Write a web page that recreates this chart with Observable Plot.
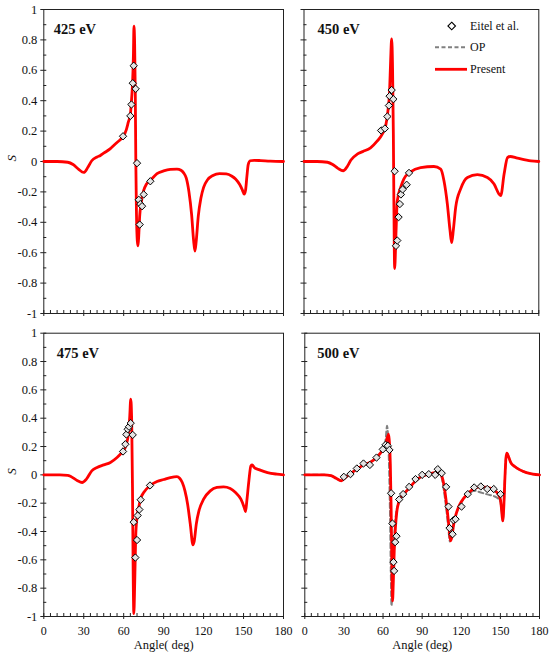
<!DOCTYPE html>
<html><head><meta charset="utf-8">
<script src="https://cdn.jsdelivr.net/npm/d3@7"></script>
<script src="https://cdn.jsdelivr.net/npm/@observablehq/plot@0.6"></script>
<style>
html,body{margin:0;padding:0;background:#fff;}
#wrap{position:relative;width:550px;height:658px;font-family:"Liberation Serif","Times New Roman",Tinos,"DejaVu Serif","Noto Serif",serif;color:#111;overflow:hidden;}
#wrap .pnl{position:absolute;}
#legend{position:absolute;left:430px;top:14px;width:110px;height:66px;}
#legend .row{position:absolute;left:0;height:16px;width:110px;}
#legend .lbl{position:absolute;left:40px;top:0;line-height:16px;font-size:12px;}
#legend svg{position:absolute;left:0;top:0;}
</style></head>
<body><div id="wrap"></div>
<script>
// ---- data: [angle (deg), S] ----
const present425 = [[0,0],[10,0],[18,-0.005],[22,-0.02],[26,-0.05],[30,-0.072],[33,-0.04],[36,0.005],[40,0.03],[42.5,0.04],[45,0.055],[50,0.085],[52.5,0.105],[55,0.125],[57,0.14],[59.5,0.162],[62,0.21],[63.5,0.26],[65,0.31],[66,0.42],[66.5,0.49],[67,0.6],[67.3,0.7],[67.7,0.89],[68.2,0.78],[68.7,0.45],[69.1,0.0],[69.6,-0.35],[70.2,-0.52],[70.8,-0.555],[71.4,-0.47],[72,-0.36],[73,-0.28],[75,-0.19],[77,-0.15],[80,-0.125],[85,-0.08],[90,-0.062],[95,-0.052],[100,-0.05],[103,-0.058],[105,-0.075],[107,-0.11],[109,-0.2],[111,-0.35],[112.5,-0.52],[113.5,-0.59],[114.5,-0.52],[116,-0.36],[118,-0.24],[120,-0.17],[123,-0.12],[127,-0.092],[132,-0.08],[137,-0.082],[141,-0.095],[144,-0.115],[147,-0.15],[149,-0.185],[150.5,-0.215],[151.5,-0.19],[152.5,-0.1],[153.5,-0.02],[155,0.005],[158,0.008],[163,0.006],[170,0.002],[180,0]];
const present450 = [[0,0],[10,0],[18,-0.005],[22,-0.02],[26,-0.045],[30,-0.061],[33,-0.035],[36,0.01],[40.8,0.048],[45,0.065],[51,0.09],[56.2,0.135],[60,0.18],[62.6,0.233],[64.3,0.33],[65.6,0.46],[66.4,0.66],[67.2,0.807],[67.9,0.61],[68.5,0.18],[68.9,-0.26],[69.5,-0.704],[70.5,-0.475],[71.5,-0.26],[74.1,-0.17],[76.6,-0.115],[81.7,-0.068],[89.4,-0.04],[99.6,-0.033],[104.8,-0.05],[107.3,-0.126],[109.9,-0.28],[111.9,-0.45],[113.2,-0.534],[114.5,-0.45],[116.3,-0.3],[120.1,-0.18],[125.3,-0.105],[132.9,-0.087],[140.6,-0.105],[145.7,-0.148],[149.5,-0.214],[150.8,-0.225],[153.4,-0.083],[156,0.026],[158,0.033],[163.6,0.022],[173.9,0.004],[180,0]];
const present475 = [[0,0],[12,0],[18,-0.003],[20,-0.01],[25,-0.04],[28.75,-0.054],[32,-0.03],[36,0.028],[40,0.052],[45,0.07],[50,0.087],[55,0.122],[58,0.15],[60,0.17],[62,0.216],[63.5,0.287],[64.5,0.405],[65.3,0.534],[66,0.38],[66.6,-0.09],[67.1,-0.68],[67.6,-0.98],[68.3,-0.75],[69,-0.44],[70,-0.3],[71.5,-0.22],[73,-0.16],[75,-0.125],[80,-0.075],[85,-0.047],[90,-0.033],[95,-0.019],[100,-0.012],[102,-0.024],[104,-0.054],[106,-0.113],[108,-0.207],[110,-0.348],[112,-0.494],[113,-0.466],[114.5,-0.348],[116.5,-0.254],[120,-0.172],[125,-0.113],[130,-0.089],[135,-0.085],[140,-0.096],[144,-0.125],[148,-0.172],[150.5,-0.23],[151.5,-0.259],[152.5,-0.18],[154,-0.042],[155.5,0.064],[156.5,0.07],[158,0.052],[162,0.035],[168,0.016],[175,0.005],[180,0]];
const present500 = [[0,0],[15,0],[20,-0.005],[24,-0.024],[28,-0.042],[31,-0.019],[35,0.009],[40,0.04],[45,0.07],[50,0.087],[55,0.122],[58,0.153],[60,0.18],[62,0.216],[63.3,0.264],[64.3,0.287],[65,0.216],[65.6,0.075],[66.2,-0.23],[66.9,-0.7],[67.3,-0.89],[67.9,-0.75],[68.6,-0.536],[69.5,-0.372],[70.5,-0.266],[72,-0.195],[74,-0.155],[77,-0.125],[80,-0.094],[85,-0.042],[90,-0.009],[95,0.005],[100,0.016],[103,0.016],[105,-0.007],[107,-0.089],[109,-0.23],[110.5,-0.36],[111.7,-0.466],[112.7,-0.442],[114,-0.36],[116,-0.278],[118,-0.226],[120,-0.19],[125,-0.132],[130,-0.096],[135,-0.085],[140,-0.089],[145,-0.108],[148,-0.132],[150,-0.172],[151,-0.254],[151.8,-0.325],[152.6,-0.23],[153.5,-0.019],[154.3,0.122],[155,0.153],[156.5,0.122],[158,0.087],[161,0.059],[165,0.035],[170,0.016],[175,0.005],[180,0]];
const op500 = [[0,0],[15,0],[20,-0.005],[24,-0.024],[28,-0.042],[31,-0.019],[35,0.009],[40,0.04],[45,0.07],[50,0.087],[55,0.122],[58,0.155],[60,0.19],[62,0.25],[63.1,0.346],[63.8,0.28],[64.5,0.1],[65.3,-0.25],[66,-0.7],[66.5,-0.925],[67.2,-0.78],[68,-0.56],[69,-0.38],[70,-0.27],[72,-0.2],[74,-0.16],[77,-0.125],[80,-0.094],[85,-0.045],[90,-0.012],[95,0.002],[100,0.012],[103,0.01],[105,-0.02],[106.5,-0.1],[108.5,-0.24],[110,-0.37],[111.3,-0.47],[112.3,-0.45],[114,-0.36],[116,-0.28],[118,-0.23],[120,-0.195],[125,-0.14],[130,-0.112],[135,-0.125],[140,-0.138],[145,-0.15],[148,-0.165],[150,-0.19],[151,-0.26],[151.8,-0.325],[152.6,-0.23],[153.5,-0.019],[154.3,0.122],[155,0.153],[156.5,0.122],[158,0.087],[161,0.059],[165,0.035],[170,0.016],[175,0.005],[180,0]];
const eitel425 = [[59.5,0.166],[65,0.30],[65.8,0.375],[66.8,0.515],[67.5,0.63],[69,0.478],[70,-0.011],[71.3,-0.252],[72.5,-0.28],[73.8,-0.294],[72,-0.415],[75,-0.217],[80,-0.13]];
const eitel450 = [[59.1,0.204],[62,0.217],[63.9,0.296],[65.1,0.368],[65.6,0.43],[67.2,0.47],[68.5,0.41],[69.5,-0.064],[70.5,-0.555],[71.5,-0.52],[72.5,-0.366],[73.5,-0.28],[74.3,-0.217],[75.6,-0.184],[78.7,-0.153],[80.5,-0.075]];
const eitel475 = [[59.5,0.165],[61.25,0.216],[62,0.285],[63,0.322],[64,0.34],[65.25,0.365],[66.75,0.282],[67.5,-0.334],[68.75,-0.584],[70,-0.46],[70.5,-0.287],[71.75,-0.245],[72.75,-0.176],[79.75,-0.075]];
const eitel500 = [[29.9,-0.014],[35,0.005],[39.9,0.045],[45,0.08],[49.9,0.07],[55,0.122],[59.8,0.18],[61.9,0.212],[63.7,0.205],[64.9,0.176],[66.2,-0.13],[67.2,-0.344],[68,-0.616],[68.5,-0.678],[69.3,-0.475],[70.3,-0.433],[72.4,-0.174],[75.4,-0.136],[80,-0.085],[84.9,-0.03],[90,0],[95.1,0.005],[100,0],[102,0.04],[105,0.012],[108.4,-0.085],[110.2,-0.224],[111,-0.376],[113.3,-0.419],[114,-0.32],[115.6,-0.313],[120.2,-0.224],[125,-0.136],[129.9,-0.089],[135,-0.082],[139.9,-0.1],[144.9,-0.1],[150.1,-0.136]];
const titles = ["425 eV","450 eV","475 eV","500 eV"];
const xLabels = ["Angle( deg)","Angle (deg)"];
const yLabel = "S";
const xMajor = [0,30,60,90,120,150,180];
const xMinor = d3.range(0,181,5).filter(v => v % 30 !== 0);
const yMajor = [-1,-0.8,-0.6,-0.4,-0.2,0,0.2,0.4,0.6,0.8,1];
const yMinor = [-0.9,-0.7,-0.5,-0.3,-0.1,0.1,0.3,0.5,0.7,0.9];
const legendLabels = ["Eitel et al.","OP","Present"];

// ---- layout ----
const FONT = '"Liberation Serif","Times New Roman",Tinos,"DejaVu Serif","Noto Serif",serif';
const panels = [
  {title:titles[0], present:present425, op:null, eitel:eitel425, left:0, top:0, width:290, height:322, mL:43.3, mR:7, mT:9, mB:9, yText:true, xText:null, tdx:10},
  {title:titles[1], present:present450, op:null, eitel:eitel450, left:290, top:0, width:260, height:322, mL:13.5, mR:11.7, mT:9, mB:9, yText:false, xText:null, tdx:13.5},
  {title:titles[2], present:present475, op:null, eitel:eitel475, left:0, top:322, width:290, height:336, mL:43.3, mR:7, mT:10.7, mB:42, yText:true, xText:xLabels[0], tdx:13},
  {title:titles[3], present:present500, op:op500, eitel:eitel500, left:290, top:322, width:260, height:336, mL:14.3, mR:11, mT:10.7, mB:42, yText:false, xText:xLabels[1], tdx:12.5}
];

const fmtY = d => String(Math.round(d*10)/10);
const ink = "#222";
const wrap = document.getElementById("wrap");

for (const p of panels) {
  const marks = [
    Plot.axisY({ticks:yMajor, tickSize:6, dx:3, fill:"none", stroke:ink, label:null}),
    Plot.axisY({ticks:yMinor, tickSize:3, dx:3, fill:"none", stroke:ink, label:null}),
    Plot.axisX({ticks:xMajor, tickSize:6, dy:-3, fill:"none", stroke:ink, label:null}),
    Plot.axisX({ticks:xMinor, tickSize:3, dy:-3, fill:"none", stroke:ink, label:null}),
    Plot.frame({stroke:ink, strokeWidth:1})
  ];
  if (p.yText) {
    marks.push(Plot.axisY({ticks:yMajor, tickSize:0, tickPadding:6.5, tickFormat:fmtY, label:null, fill:"#111", fontSize:12.5}));
    marks.push(Plot.text([yLabel], {text:d=>d, frameAnchor:"left", dx:-31.5, rotate:-90, fontStyle:"italic", fontSize:13, fill:"#111"}));
  }
  if (p.xText) {
    marks.push(Plot.axisX({ticks:xMajor, tickSize:0, tickPadding:9.5, tickFormat:d=>String(d), label:null, fill:"#111", fontSize:12}));
    marks.push(Plot.text([p.xText], {text:d=>d, frameAnchor:"bottom", dy:32, fontSize:12.5, fill:"#111"}));
  }
  if (p.op) {
    marks.push(Plot.line(p.op, {x:d=>d[0], y:d=>d[1], stroke:"#808080", strokeWidth:2, strokeDasharray:"5,3", curve:"monotone-x"}));
  }
  marks.push(Plot.line(p.present, {x:d=>d[0], y:d=>d[1], stroke:"#ff0000", strokeWidth:2.8, curve:"monotone-x"}));
  marks.push(Plot.dot(p.eitel, {x:d=>d[0], y:d=>d[1], symbol:"diamond2", r:3.3, fill:"#e4e4e4", stroke:"#000", strokeWidth:1}));
  marks.push(Plot.text([p.title], {text:d=>d, frameAnchor:"top-left", dx:p.tdx, dy:14.3, textAnchor:"start", fontWeight:"bold", fontSize:14.5, fill:"#111"}));

  const svg = Plot.plot({
    width:p.width, height:p.height,
    marginLeft:p.mL, marginRight:p.mR, marginTop:p.mT, marginBottom:p.mB,
    x:{domain:[0,180]}, y:{domain:[-1,1]},
    style:{fontFamily:FONT, fontSize:"12.5px", background:"transparent", overflow:"visible"},
    marks
  });
  svg.setAttribute("font-family", FONT);
  svg.style.fontFamily = FONT;
  svg.classList.add("pnl");
  svg.style.left = p.left + "px";
  svg.style.top = p.top + "px";
  wrap.appendChild(svg);
}

// ---- legend (HTML overlay in the 450 eV panel) ----
const leg = document.createElement("div");
leg.id = "legend";
leg.innerHTML =
  `<div class="row" style="top:4px"><svg width="40" height="16"><path d="M21.7,4.2L25.5,8L21.7,11.8L17.9,8Z" fill="#fff" stroke="#000" stroke-width="1.1"/></svg><span class="lbl">${legendLabels[0]}</span></div>` +
  `<div class="row" style="top:25px"><svg width="40" height="16"><line x1="5" x2="35" y1="8.3" y2="8.3" stroke="#808080" stroke-width="2" stroke-dasharray="4,2.5"/></svg><span class="lbl">${legendLabels[1]}</span></div>` +
  `<div class="row" style="top:47px"><svg width="40" height="16"><line x1="5" x2="37" y1="8.3" y2="8.3" stroke="#ff0000" stroke-width="2.8"/></svg><span class="lbl">${legendLabels[2]}</span></div>`;
wrap.appendChild(leg);
</script>
</body></html>
